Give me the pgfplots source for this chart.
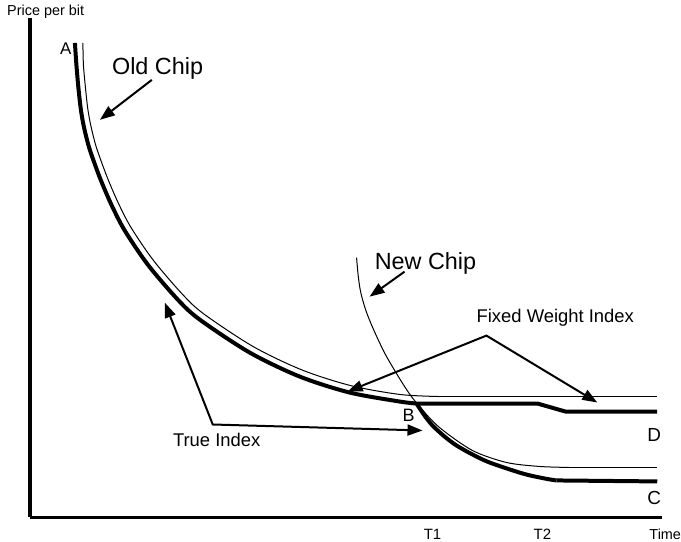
\documentclass[border=0pt]{standalone}
\usepackage{pgfplots}
\pgfplotsset{compat=1.18}
\usetikzlibrary{arrows.meta}
\usepackage{fontspec}
\setmainfont{Liberation Sans}
\begin{document}
\begin{tikzpicture}
\begin{axis}[
  scale only axis, width=633bp, height=500bp,
  xmin=30, xmax=663, ymin=0, ymax=500,
  axis x line=bottom, axis y line=left,
  axis line style={-, line width=3.2bp},
  every outer x axis line/.append style={-},
  every outer y axis line/.append style={-},
  xtick={433,543}, xticklabels={T1,T2},
  ytick=\empty,
  major tick length=0pt,
  xticklabel style={font=\fontsize{15}{17}\selectfont, inner sep=0pt, anchor=base, yshift=-22bp},
  xlabel={Time}, ylabel={Price per bit},
  every axis x label/.style={at={(axis description cs:0.9795,-0.044)}, anchor=base west, inner sep=0pt, font=\fontsize{14.5}{16}\selectfont},
  every axis y label/.style={at={(axis description cs:-0.0363,1.004)}, anchor=base west, inner sep=0pt, font=\fontsize{14.5}{16}\selectfont},
  clip=false,
]
% Old chip (thin)
\addplot[black, line width=1bp, smooth] coordinates {
(83,475) (83.5,453.5) (85.5,430.7) (87.9,409) (90.9,392.4) (95.7,373) (102.1,354.4) (108.5,337.6) (118.3,315) (131,290.5) (153.6,257.3) (183,223) (204.3,203.5) (253.5,171) (302.6,147.5) (351.7,131.8) (401,123) (440,121)};
\addplot[black, line width=1bp] coordinates {(440,121) (658,121)};
% New chip (thin)
\addplot[black, line width=1bp, smooth] coordinates {
(357,260) (358.5,243) (361,226) (366,208) (374,188) (387,161) (407,128) (420,111) (440,90) (473,67) (507,55) (540,51) (570,50)};
\addplot[black, line width=1bp] coordinates {(570,50) (658,50)};
% True index, old chip part (thick)
\addplot[black, line width=4bp, smooth] coordinates {
(75,475) (76.5,453) (78.5,430) (81,408) (84,391) (89,371) (95.5,352) (102,335) (112,312) (125,287) (148,253) (178,218) (200,198) (250,165) (300,141) (350,125) (400,116) (417,114)};
% Fixed weight index continuation (thick)
\addplot[black, line width=4bp] coordinates {(417,114) (538,114) (566,106) (658,106)};
% True index, new chip part (thick)
\addplot[black, line width=4bp, smooth] coordinates {
(417,114) (425,102) (433,92) (445,81) (457,72) (473,63) (490,55) (523,44) (545,39) (557,37)};
\addplot[black, line width=4bp] coordinates {(557,37) (658,36)};
% annotations
\draw[line width=2bp, -{Triangle[length=15bp,width=11bp]}] (axis cs:152,438) -- (axis cs:100,398);
\draw[line width=2bp, -{Triangle[length=15bp,width=11bp]}] (axis cs:405,246) -- (axis cs:370,221);
\draw[line width=2bp, {Triangle[length=15bp,width=11bp]}-{Triangle[length=15bp,width=11bp]}] (axis cs:348,126) -- (axis cs:487,182) -- (axis cs:598,115);
\draw[line width=2bp, {Triangle[length=15bp,width=11bp]}-{Triangle[length=15bp,width=11bp]}] (axis cs:165,215) -- (axis cs:213,93) -- (axis cs:423,87);
\node[anchor=base west, inner sep=0pt, font=\fontsize{23.5}{26}\selectfont] at (axis cs:112,443) {Old Chip};
\node[anchor=base west, inner sep=0pt, font=\fontsize{23.5}{26}\selectfont] at (axis cs:375,248) {New Chip};
\node[anchor=base west, inner sep=0pt, font=\fontsize{18.5}{21}\selectfont] at (axis cs:477,195) {Fixed Weight Index};
\node[anchor=base west, inner sep=0pt, font=\fontsize{18.5}{21}\selectfont] at (axis cs:173,71) {True Index};
\node[anchor=base west, inner sep=0pt, font=\fontsize{17}{20}\selectfont] at (axis cs:60,463) {A};
\node[anchor=base west, inner sep=0pt, font=\fontsize{18}{20}\selectfont] at (axis cs:403,96) {B};
\node[anchor=base west, inner sep=0pt, font=\fontsize{19}{20}\selectfont] at (axis cs:648,76) {D};
\node[anchor=base west, inner sep=0pt, font=\fontsize{19}{20}\selectfont] at (axis cs:648,13) {C};
\path (axis cs:0,-24) rectangle (axis cs:681,518);
\end{axis}
\end{tikzpicture}
\end{document}
